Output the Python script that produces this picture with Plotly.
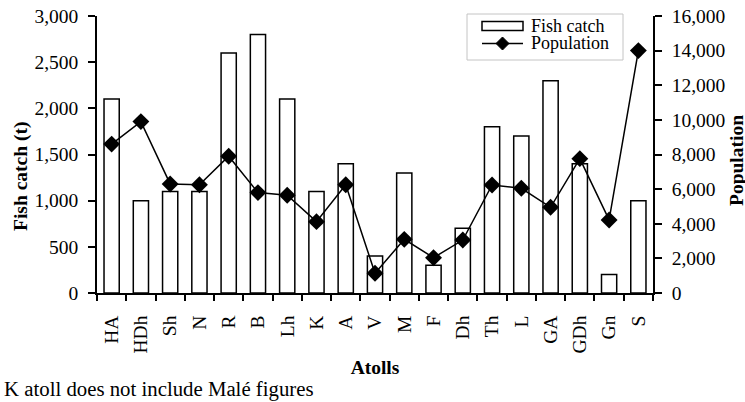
import plotly.graph_objects as go

atolls = ["HA", "HDh", "Sh", "N", "R", "B", "Lh", "K", "A", "V", "M", "F", "Dh",
          "Th", "L", "GA", "GDh", "Gn", "S"]
fish_catch = [2100, 1000, 1100, 1100, 2600, 2800, 2100, 1100, 1400, 400, 1300, 300,
              700, 1800, 1700, 2300, 1400, 200, 1000]
population = [8600, 9900, 6300, 6250, 7900, 5800, 5650, 4120, 6250, 1140, 3100, 2040,
              3060, 6240, 6050, 4950, 7760, 4220, 14000]
legend_labels = ["Fish catch", "Population"]

FONT = "Liberation Serif, Times New Roman, serif"
FS = 19.5

# plot area in pixels
L, R, T, B = 97, 653, 16, 293
W, H = 745, 402


def px(x):
    return (x - L) / (R - L)


def py(y):
    return (B - y) / (B - T)


fig = go.Figure()
fig.add_trace(go.Bar(
    x=atolls, y=fish_catch, name=legend_labels[0],
    marker=dict(color="white", line=dict(color="black", width=1.5)),
))
fig.add_trace(go.Scatter(
    x=atolls, y=population, name=legend_labels[1], yaxis="y2",
    mode="lines+markers",
    line=dict(color="black", width=1.5),
    marker=dict(symbol="diamond", size=13, color="black"),
))

# custom legend (box, symbols, labels)
shapes = [
    dict(type="rect", xref="paper", yref="paper",
         x0=px(467), x1=px(623), y0=py(60), y1=py(14),
         line=dict(color="#c4c4c4", width=1), fillcolor="white", layer="above"),
    dict(type="rect", xref="paper", yref="paper",
         x0=px(482), x1=px(523), y0=py(30.5), y1=py(21.5),
         line=dict(color="black", width=1.5), fillcolor="white", layer="above"),
    dict(type="line", xref="paper", yref="paper",
         x0=px(482), x1=px(523), y0=py(43.5), y1=py(43.5),
         line=dict(color="black", width=1.5), layer="above"),
    dict(type="path", xref="paper", yref="paper",
         path="M {a},{b} L {c},{d} L {a},{e} L {f},{d} Z".format(
             a=px(502.5), b=py(37), c=px(509), d=py(43.5), e=py(50), f=px(496)),
         line=dict(color="black", width=1), fillcolor="black", layer="above"),
]

annotations = [
    dict(text=legend_labels[0], xref="paper", yref="paper", x=px(529), y=py(26),
         xanchor="left", yanchor="middle", showarrow=False,
         font=dict(family=FONT, size=18)),
    dict(text=legend_labels[1], xref="paper", yref="paper", x=px(529), y=py(43.5),
         xanchor="left", yanchor="middle", showarrow=False,
         font=dict(family=FONT, size=18)),
    dict(text="<b>Fish catch (t)</b>", xref="paper", yref="paper",
         x=px(21), y=py(177), textangle=-90,
         xanchor="center", yanchor="middle", showarrow=False,
         font=dict(family=FONT, size=FS)),
    dict(text="<b>Population</b>", xref="paper", yref="paper",
         x=px(736), y=py(161), textangle=-90,
         xanchor="center", yanchor="middle", showarrow=False,
         font=dict(family=FONT, size=FS)),
    dict(text="K atoll does not include Malé figures",
         xref="paper", yref="paper", x=px(2), y=py(389),
         xanchor="left", yanchor="middle", showarrow=False,
         font=dict(family=FONT, size=20.8)),
]

fig.update_layout(
    width=W, height=H,
    margin=dict(l=L, r=W - R, t=T, b=H - B, autoexpand=False),
    paper_bgcolor="white", plot_bgcolor="white",
    font=dict(family=FONT, size=FS, color="black"),
    bargap=0.48,
    showlegend=False,
    shapes=shapes,
    annotations=annotations,
    xaxis=dict(
        automargin=False, range=[-0.5, 18.5],
        showline=True, linecolor="black", linewidth=1.5,
        ticks="outside", ticklen=6, tickcolor="black", tickwidth=1.5,
        tickson="boundaries", tickangle=-90, ticklabelstandoff=13,
        tickfont=dict(family=FONT, size=FS),
        title=dict(text="<b>Atolls</b>", font=dict(family=FONT, size=FS), standoff=8),
        showgrid=False,
    ),
    yaxis=dict(
        automargin=False,
        range=[0, 3000], dtick=500, tickformat=",d",
        showline=True, linecolor="black", linewidth=1.5,
        ticks="outside", ticklen=7, tickcolor="black", tickwidth=1.5,
        ticklabelstandoff=6,
        showgrid=False, zeroline=False,
        tickfont=dict(family=FONT, size=FS),
    ),
    yaxis2=dict(
        automargin=False,
        range=[0, 16000], dtick=2000, tickformat=",d",
        overlaying="y", side="right",
        showline=True, linecolor="black", linewidth=1.5,
        ticks="outside", ticklen=7, tickcolor="black", tickwidth=1.5,
        ticklabelstandoff=6,
        showgrid=False, zeroline=False,
        tickfont=dict(family=FONT, size=FS),
    ),
)

fig.write_html("out.html", config={"displayModeBar": False},
               post_script="document.body.style.margin='0px';")
